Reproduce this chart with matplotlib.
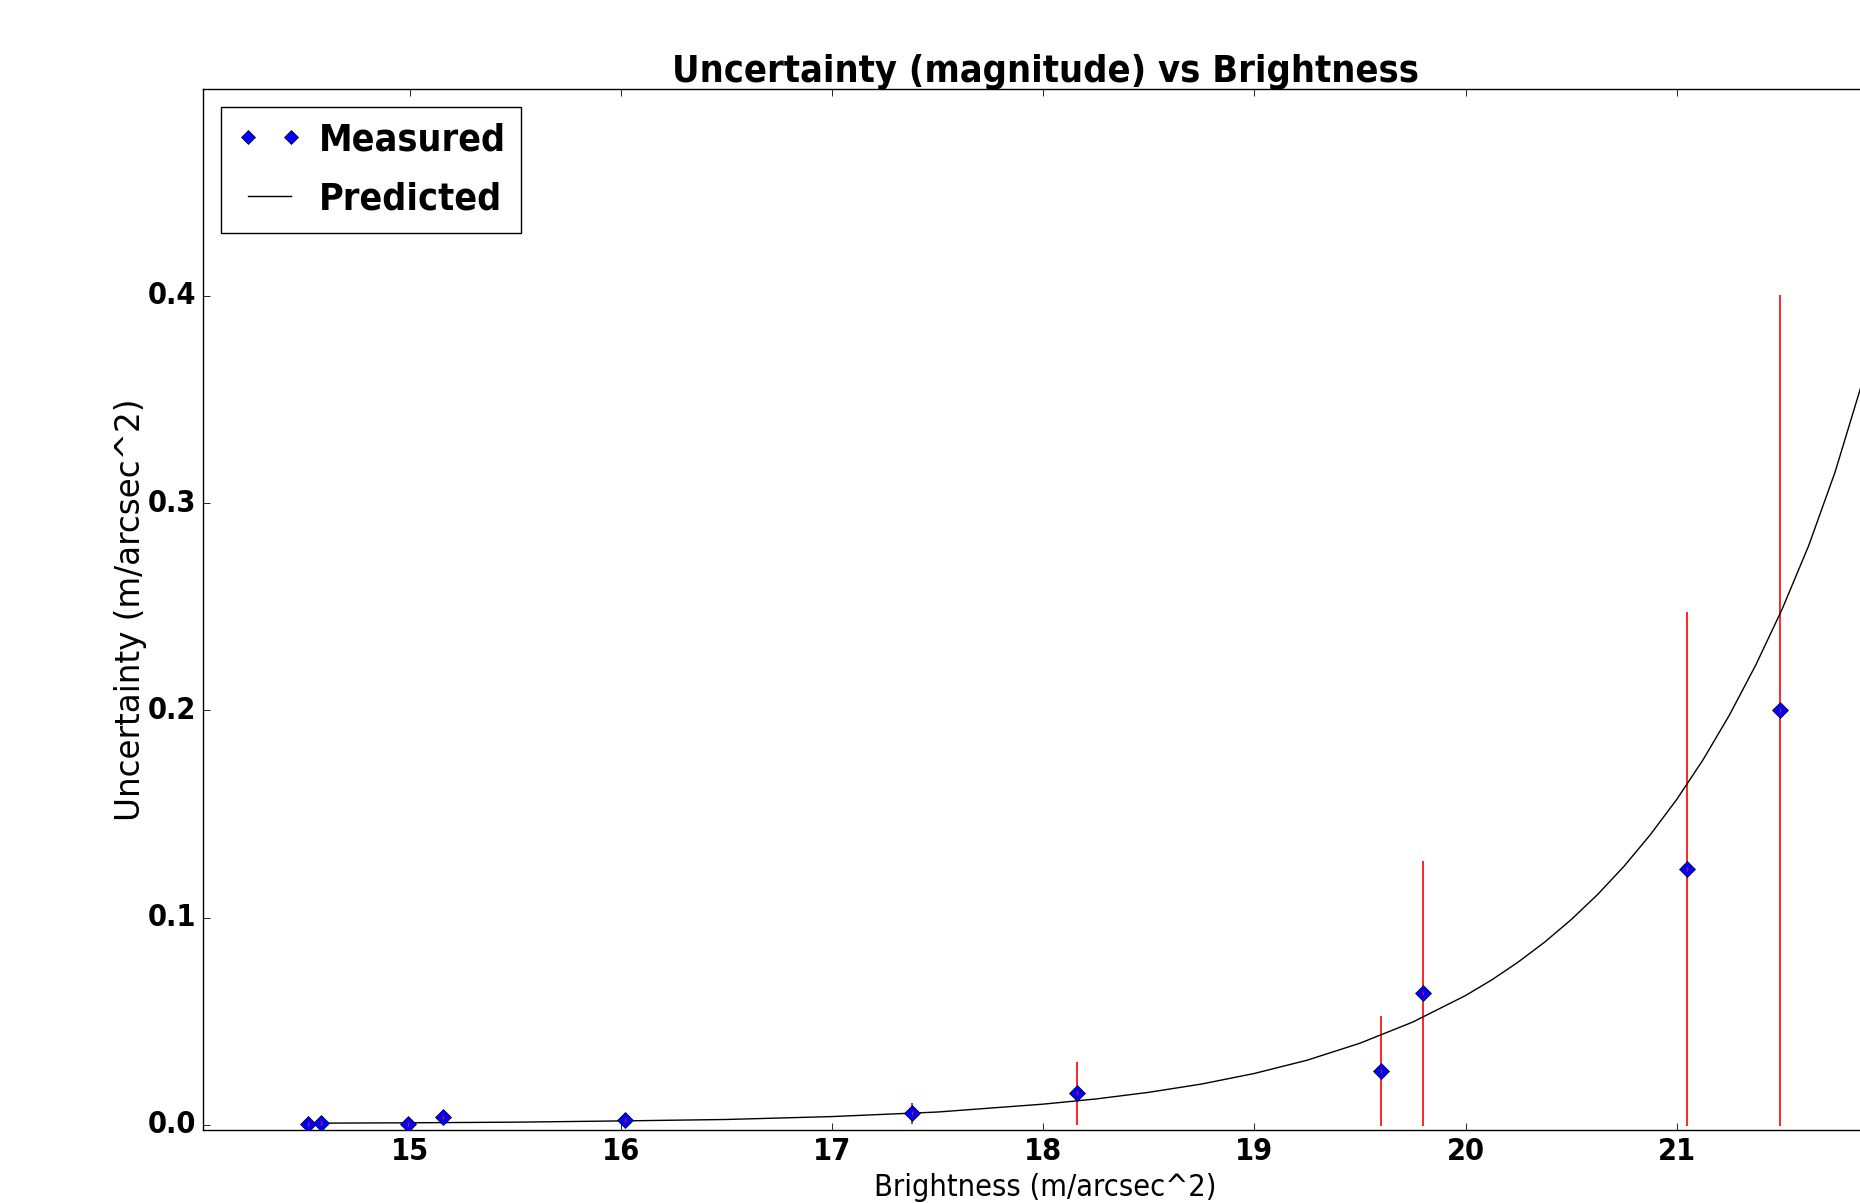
import matplotlib
matplotlib.use("Agg")
import matplotlib.pyplot as plt

# ---- data ----
brightness = [14.52, 14.58, 14.99, 15.16, 16.02, 17.38, 18.16, 19.60, 19.80, 21.05, 21.49]
uncertainty = [0.0006, 0.0007, 0.0005, 0.0037, 0.0025, 0.0055, 0.0153, 0.0260, 0.0634, 0.1236, 0.2001]
uncertainty_err = [0.0006, 0.0007, 0.0005, 0.0035, 0.0025, 0.0050, 0.0152, 0.0265, 0.0640, 0.1240, 0.2005]

pred_brightness = [14.52, 15.0, 15.5, 16.0, 16.5, 17.0, 17.5, 18.0, 18.25, 18.5, 18.75,
                   19.0, 19.25, 19.5, 19.75, 20.0, 20.125, 20.25, 20.375, 20.5, 20.625,
                   20.75, 20.875, 21.0, 21.125, 21.25, 21.375, 21.5, 21.625, 21.75,
                   21.875, 22.0]
pred_uncertainty = [0.0008, 0.0010, 0.0013, 0.0019, 0.0026, 0.0040, 0.0062, 0.0100, 0.0125,
                    0.0157, 0.0197, 0.0248, 0.0312, 0.0394, 0.0496, 0.0624, 0.0700, 0.0786,
                    0.0882, 0.0990, 0.1111, 0.1247, 0.1400, 0.1570, 0.1762, 0.1978, 0.2220,
                    0.2490, 0.2795, 0.3150, 0.3570, 0.4000]

x_ticks = [15, 16, 17, 18, 19, 20, 21]
y_ticks = [0.0, 0.1, 0.2, 0.3, 0.4]

title_text = "Uncertainty (magnitude) vs Brightness"
xlabel_text = "Brightness (m/arcsec^2)"
ylabel_text = "Uncertainty (m/arcsec^2)"
legend_labels = ["Measured", "Predicted"]

# ---- style ----
plt.style.use("classic")
plt.rcParams["font.family"] = ["DejaVu Sans"]
plt.rcParams["font.stretch"] = "condensed"

fig = plt.figure(figsize=(18.6, 12.03), dpi=100, facecolor="white")
ax = fig.add_axes([0.109, 0.0603, 0.906, 0.8661])
ax.set_facecolor("white")

lows = [u - e for u, e in zip(uncertainty, uncertainty_err)]
highs = [u + e for u, e in zip(uncertainty, uncertainty_err)]
ax.vlines(brightness, lows, highs, colors="r", linewidth=1.2, zorder=1)

pred_line, = ax.plot(pred_brightness, pred_uncertainty, "k-", linewidth=1.0,
                     label=legend_labels[1], zorder=2)
meas, = ax.plot(brightness, uncertainty, linestyle="none", marker="D", color="b",
                markeredgecolor="k", markeredgewidth=0.5, markersize=8.5,
                label=legend_labels[0], zorder=3)
ax.plot(brightness, uncertainty, linestyle="none", marker="|", color="r",
        markersize=3, markeredgewidth=1.0, zorder=4)

ax.set_xlim(14.02, 22.0)
ax.set_ylim(-0.0027, 0.5)
ax.set_xticks(x_ticks)
ax.set_yticks(y_ticks)
ax.set_xticklabels([str(t) for t in x_ticks])
ax.set_yticklabels(["%.1f" % t for t in y_ticks])
ax.tick_params(axis="both", which="major", direction="in", length=5, width=0.6,
               labelsize=22, pad=5, top=True, right=True)
ax.minorticks_off()
for lab in ax.get_xticklabels() + ax.get_yticklabels():
    lab.set_fontweight("bold")

for sp in ax.spines.values():
    sp.set_linewidth(1.0)
    sp.set_color("black")

ax.set_title(title_text, fontsize=27.2, fontweight="bold", y=1.0, pad=5)
ax.set_xlabel(xlabel_text, fontsize=22, labelpad=5)
ax.set_ylabel(ylabel_text, fontsize=23.5, fontstretch="normal", labelpad=0)

leg = ax.legend(handles=[meas, pred_line], loc="upper left", numpoints=2,
                prop={"size": 27, "weight": "bold"}, handlelength=1.75,
                handletextpad=0.45, borderpad=0.4, borderaxespad=0.5,
                labelspacing=0.62, fancybox=False, frameon=True, markerscale=0.85)
leg.get_frame().set_edgecolor("black")
leg.get_frame().set_linewidth(1.0)

fig.savefig("out.png", dpi=100, facecolor="white")
